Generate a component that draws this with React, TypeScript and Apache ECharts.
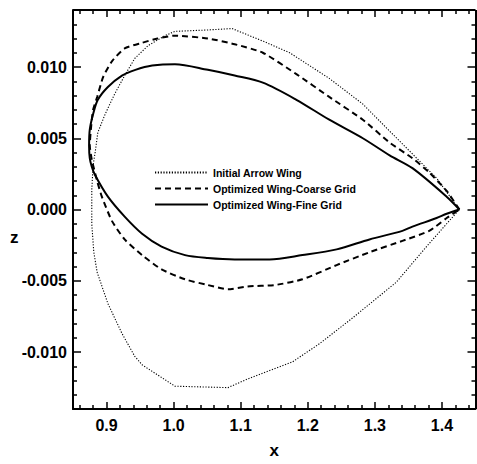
import React, { useEffect, useRef } from "react";
import * as echarts from "echarts";

const seriesNames = [
  "Initial Arrow Wing",
  "Optimized Wing-Coarse Grid",
  "Optimized Wing-Fine Grid",
];

// Initial arrow wing section (dotted)
const initialX = [
  1.426, 1.392, 1.356, 1.322, 1.282, 1.232, 1.173, 1.134, 1.087, 1.051, 1.002,
  0.987, 0.962, 0.942, 0.927, 0.912, 0.898, 0.887, 0.883, 0.880, 0.878, 0.878,
  0.881, 0.886, 0.902, 0.923, 0.942, 0.953, 1.002, 1.081, 1.110, 1.143, 1.177,
  1.218, 1.267, 1.332, 1.377, 1.407, 1.426,
];
const initialZ = [
  0.0, 0.0022, 0.0039, 0.0055, 0.0074, 0.0092, 0.011, 0.0118, 0.0127, 0.0126,
  0.0125, 0.0122, 0.0115, 0.0106, 0.0094, 0.0081, 0.0067, 0.0054, 0.004, 0.0031,
  0.0014, -0.001, -0.003, -0.0044, -0.0066, -0.0087, -0.0103, -0.0109, -0.0124,
  -0.0125, -0.0119, -0.0113, -0.0107, -0.0094, -0.0076, -0.0051, -0.0026,
  -0.001, 0.0,
];

// Optimized wing, coarse grid (dashed)
const coarseX = [
  1.426, 1.407, 1.381, 1.356, 1.322, 1.282, 1.232, 1.183, 1.133, 1.091, 1.051,
  1.002, 0.976, 0.953, 0.927, 0.908, 0.895, 0.886, 0.88, 0.877, 0.875, 0.878,
  0.886, 0.893, 0.908, 0.927, 0.953, 0.982, 1.017, 1.051, 1.081, 1.11, 1.151,
  1.192, 1.243, 1.292, 1.341, 1.381, 1.407, 1.426,
];
const coarseZ = [
  0.0, 0.0013, 0.0026, 0.0036, 0.0047, 0.0063, 0.0079, 0.0095, 0.011, 0.0116,
  0.012, 0.0122, 0.012, 0.0117, 0.0113, 0.0104, 0.0093, 0.0079, 0.007, 0.0058,
  0.0045, 0.0035, 0.002, 0.0009, -0.0008, -0.0021, -0.0032, -0.0042, -0.0049,
  -0.0053, -0.0056, -0.0054, -0.0053, -0.0049, -0.0039, -0.003, -0.0022,
  -0.0015, -0.0006, 0.0,
];

// Optimized wing, fine grid (solid)
const fineX = [
  1.426, 1.407, 1.356, 1.322, 1.282, 1.232, 1.183, 1.133, 1.091, 1.051, 1.002,
  0.968, 0.943, 0.923, 0.902, 0.887, 0.88, 0.875, 0.874, 0.875, 0.878, 0.883,
  0.902, 0.927, 0.953, 0.982, 1.017, 1.051, 1.091, 1.143, 1.192, 1.243, 1.292,
  1.341, 1.356, 1.392, 1.407, 1.426,
];
const fineZ = [
  0.0, 0.0009, 0.0029, 0.0038, 0.005, 0.0063, 0.0077, 0.0089, 0.0094, 0.0098,
  0.0102, 0.0101, 0.0098, 0.0094, 0.0086, 0.0077, 0.0067, 0.0056, 0.0045,
  0.0036, 0.003, 0.0024, 0.0009, -0.0005, -0.0017, -0.0026, -0.0032, -0.0034,
  -0.0035, -0.0035, -0.0032, -0.0028, -0.0021, -0.0015, -0.0012, -0.0006,
  -0.0003, 0.0,
];

const xMajorTicks = [0.9, 1.0, 1.1, 1.2, 1.3, 1.4];
const xMinorTicks = [
  0.86, 0.88, 0.92, 0.94, 0.96, 0.98, 1.02, 1.04, 1.06, 1.08, 1.12, 1.14, 1.16,
  1.18, 1.22, 1.24, 1.26, 1.28, 1.32, 1.34, 1.36, 1.38, 1.42, 1.44,
];
const zMajorTicks = [-0.01, -0.005, 0.0, 0.005, 0.01];
const zMinorTicks = [
  -0.013, -0.012, -0.011, -0.009, -0.008, -0.007, -0.006, -0.004, -0.003,
  -0.002, -0.001, 0.001, 0.002, 0.003, 0.004, 0.006, 0.007, 0.008, 0.009, 0.011,
  0.012, 0.013,
];

const X_MIN = 0.85;
const X_MAX = 1.45;
const Z_MIN = -0.014;
const Z_MAX = 0.014;

const MAJOR_LEN = 7;
const MINOR_LEN = 4;

const FONT = "'Liberation Sans', Arial, Helvetica, sans-serif";

function zip(xs: number[], zs: number[]) {
  return xs.map((x, i) => [x, zs[i]]);
}

export default function App() {
  const ref = useRef<HTMLDivElement>(null);

  useEffect(() => {
    if (!ref.current) return;
    const chart = echarts.init(ref.current, undefined, { renderer: "svg" });

    const labelStyle = {
      color: "#000",
      fontFamily: FONT,
      fontWeight: "bold" as const,
      fontSize: 16,
    };

    chart.setOption({
      animation: false,
      backgroundColor: "#fff",
      color: ["#000", "#000", "#000"],
      grid: {
        show: false,
        left: 73,
        top: 10,
        right: 1.5,
        bottom: 44,
      },
      xAxis: {
        type: "value",
        min: X_MIN,
        max: X_MAX,
        position: "bottom",
        axisLine: {
          show: true,
          onZero: false,
          lineStyle: { color: "#000", width: 2 },
        },
        splitLine: { show: false },
        axisTick: { show: false },
        axisLabel: {
          show: true,
          customValues: xMajorTicks,
          margin: 8,
          formatter: (v: number) => v.toFixed(1),
          ...labelStyle,
        },
        name: "x",
        nameLocation: "middle",
        nameGap: 33,
        nameTextStyle: { ...labelStyle, fontSize: 17 },
      },
      yAxis: {
        type: "value",
        min: Z_MIN,
        max: Z_MAX,
        position: "left",
        axisLine: {
          show: true,
          onZero: false,
          lineStyle: { color: "#000", width: 2 },
        },
        splitLine: { show: false },
        axisTick: { show: false },
        axisLabel: {
          show: true,
          customValues: zMajorTicks,
          margin: 6,
          formatter: (v: number) => v.toFixed(3),
          ...labelStyle,
        },
      },
      legend: {
        orient: "vertical",
        left: 149,
        top: 162,
        itemWidth: 53,
        itemHeight: 12,
        itemGap: 5,
        data: seriesNames,
        itemStyle: { opacity: 0 },
        textStyle: {
          color: "#000",
          fontFamily: FONT,
          fontWeight: "bold",
          fontSize: 10.5,
        },
      },
      graphic: [
        {
          type: "text",
          left: 10,
          top: 229,
          style: { text: "z", fill: "#000", font: `bold 17px ${FONT}` },
        },
      ],
      series: [
        {
          name: seriesNames[0],
          type: "line",
          data: zip(initialX, initialZ),
          showSymbol: false,
          symbol: "none",
          itemStyle: { color: "#000" },
          lineStyle: { color: "#000", width: 1.1, type: [1.2, 1.6] },
        },
        {
          name: seriesNames[1],
          type: "line",
          data: zip(coarseX, coarseZ),
          showSymbol: false,
          symbol: "none",
          smooth: 0.2,
          itemStyle: { color: "#000" },
          lineStyle: { color: "#000", width: 2, type: [6, 4] },
        },
        {
          name: seriesNames[2],
          type: "line",
          data: zip(fineX, fineZ),
          showSymbol: false,
          symbol: "none",
          smooth: 0.3,
          itemStyle: { color: "#000" },
          lineStyle: { color: "#000", width: 2 },
        },
      ],
    });

    // Tick lengths converted from pixels to data units through the chart's scales
    const toPx = (x: number, z: number) =>
      chart.convertToPixel({ gridIndex: 0 }, [x, z]) as number[];
    const [left, bottom] = toPx(X_MIN, Z_MIN);
    const [right, top] = toPx(X_MAX, Z_MAX);
    const zPerPx = (Z_MAX - Z_MIN) / Math.abs(bottom - top);
    const xPerPx = (X_MAX - X_MIN) / Math.abs(right - left);

    const tickSegs: any[] = [];
    const addX = (vals: number[], len: number) =>
      vals.forEach((v) => {
        tickSegs.push({ coords: [[v, Z_MIN], [v, Z_MIN + len * zPerPx]] });
        tickSegs.push({ coords: [[v, Z_MAX], [v, Z_MAX - len * zPerPx]] });
      });
    const addZ = (vals: number[], len: number) =>
      vals.forEach((v) => {
        tickSegs.push({ coords: [[X_MIN, v], [X_MIN + len * xPerPx, v]] });
        tickSegs.push({ coords: [[X_MAX, v], [X_MAX - len * xPerPx, v]] });
      });
    addX(xMajorTicks, MAJOR_LEN);
    addX(xMinorTicks, MINOR_LEN);
    addZ(zMajorTicks, MAJOR_LEN + 1);
    addZ(zMinorTicks, MINOR_LEN);

    const frameSegs = [
      { coords: [[X_MIN, Z_MAX], [X_MAX, Z_MAX]] },
      { coords: [[X_MAX, Z_MIN], [X_MAX, Z_MAX]] },
    ];

    chart.setOption({
      series: [
        {},
        {},
        {},
        {
          name: "ticks",
          type: "lines",
          coordinateSystem: "cartesian2d",
          silent: true,
          z: 5,
          data: tickSegs,
          lineStyle: { color: "#000", width: 1.5, opacity: 1, curveness: 0 },
        },
        {
          name: "frame",
          type: "lines",
          coordinateSystem: "cartesian2d",
          silent: true,
          z: 5,
          data: frameSegs,
          lineStyle: { color: "#000", width: 2, opacity: 1, curveness: 0 },
        },
      ],
    });

    return () => chart.dispose();
  }, []);

  return (
    <div
      ref={ref}
      style={{ position: "absolute", left: 0, top: 0, width: 477, height: 464 }}
    />
  );
}
